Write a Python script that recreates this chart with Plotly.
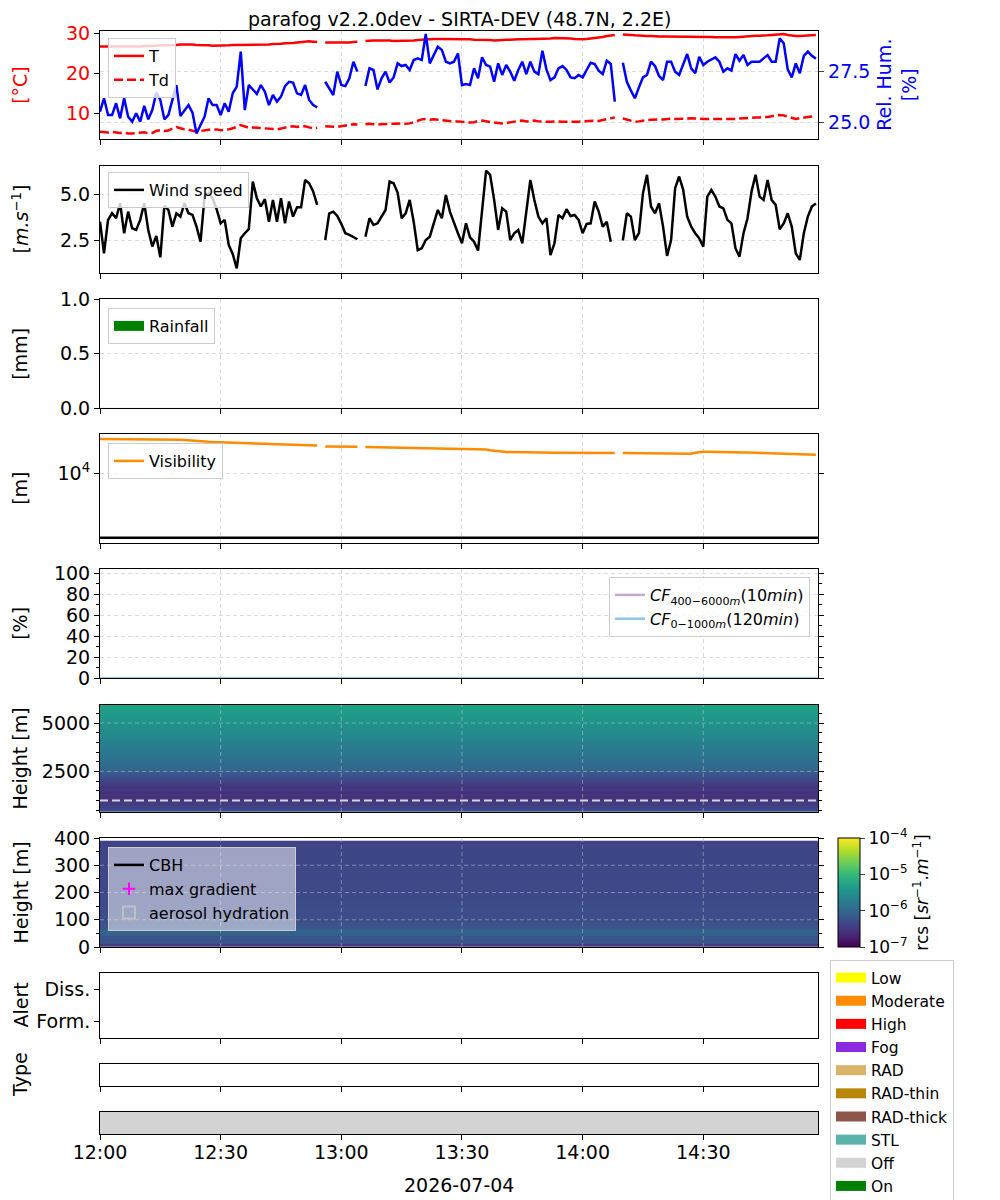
import numpy as np
import pandas as pd
import plotly.graph_objects as go

# ---- time base: 1-min samples from 12:00 ----
times = pd.date_range("2026-07-04 12:00", periods=179, freq="min")
ten_min = pd.date_range("2026-07-04 12:05", periods=18, freq="10min")
cf_times = pd.date_range("2026-07-04 12:00", periods=19, freq="10min")
x_start = pd.Timestamp("2026-07-04 12:00")
x_end = pd.Timestamp("2026-07-04 14:58:36")

# ---- weather station ----
temperature = [
    26.7, 26.7, 26.6, 26.7, 26.7, 26.6, 26.7, 26.7, 26.7, 26.7,
    26.7, 26.8, 26.8, 26.9, 26.9, 27.0, 27.0, 27.1, 27.1, 27.1,
    27.2, 27.2, 27.3, 27.2, 27.1, 27.1, 27.0, 27.0, 26.9, 26.9,
    26.9, 27.0, 27.0, 27.1, 27.1, 27.1, 27.2, 27.2, 27.2, 27.2,
    27.2, 27.2, 27.2, 27.3, 27.3, 27.4, 27.5, 27.5, 27.6, 27.7,
    27.8, 27.9, 28.0, 27.9, 27.8, None,
    27.7, 27.7, 27.7, 27.6, 27.6, 27.7, 27.7, 27.8, 27.9, None,
    28.1, 28.2, 28.2, 28.2, 28.2, 28.3, 28.2, 28.1, 28.1, 28.1,
    28.1, 28.1, 28.2, 28.3, 28.4, 28.5, 28.6, 28.6, 28.6, 28.6,
    28.6, 28.5, 28.5, 28.5, 28.6, 28.6, 28.5, 28.4, 28.4, 28.3,
    28.3, 28.3, 28.2, 28.3, 28.3,
    28.4, 28.4, 28.5, 28.5, 28.5, 28.6, 28.6, 28.6, 28.6, 28.7,
    28.7, 28.7, 28.8, 28.8, 28.8, 28.8, 28.7, 28.6, 28.5, 28.5,
    28.6, 28.7, 28.8, 29.0, 29.1, 29.3, 29.4, 29.6, None,
    29.7, 29.7, 29.6, 29.5, 29.4, 29.3, 29.3, 29.3, 29.2, 29.2,
    29.2, 29.2, 29.2, 29.2, 29.2, 29.2, 29.2, 29.2, 29.2, 29.2,
    29.2, 29.1, 29.1, 29.0, 29.0, 28.9, 28.9, 28.9, 29.0, 29.1,
    29.2, 29.2, 29.3, 29.4, 29.4, 29.4, 29.5, 29.6, 29.7, 29.8,
    29.8, 29.6, 29.4, 29.3, 29.3, 29.4, 29.5, 29.6, 29.6,
]
dewpoint = [
    5.4, 5.3, 5.2, 5.4, 5.3, 5.1, 5.2, 5.0, 5.0, 5.1,
    5.2, 5.3, 5.0, 5.1, 5.6, 5.8, 5.6, 5.7, 6.2, 6.6,
    6.3, 6.0, 5.9, 5.6, 5.4, 5.6, 5.8, 5.9, 5.9, 6.0,
    5.8, 5.9, 6.0, 6.3, 6.6, 7.1, 6.7, 6.4, 6.5, 6.4,
    6.3, 6.2, 6.1, 6.0, 6.0, 6.2, 6.5, 6.7, 6.8, 6.6,
    6.8, 6.8, 6.5, 6.3, 6.4, None,
    6.8, 6.7, 6.6, 6.6, 6.8, 7.0, 7.2, 7.3, 7.2, None,
    7.3, 7.4, 7.3, 7.2, 7.3, 7.4, 7.4, 7.4, 7.5, 7.5,
    7.4, 7.5, 7.8, 8.1, 8.5, 8.6, 8.4, 8.5, 8.4, 8.2,
    8.2, 8.1, 8.0, 8.0, 7.9, 7.9, 7.7, 7.8, 8.1, 8.2,
    8.0, 7.8, 7.7, 7.6, 7.5,
    7.6, 7.8, 8.0, 8.1, 8.2, 8.0, 8.1, 8.2, 8.0, 7.9,
    7.9, 7.9, 8.0, 8.0, 7.9, 7.9, 7.8, 7.8, 7.9, 8.0,
    8.1, 8.2, 8.2, 8.1, 8.3, 8.5, 8.8, 9.0, None,
    8.7, 8.4, 8.1, 7.9, 8.0, 8.2, 8.3, 8.4, 8.5, 8.5,
    8.5, 8.6, 8.7, 8.6, 8.6, 8.7, 8.7, 8.8, 8.8, 8.7,
    8.6, 8.6, 8.5, 8.5, 8.5, 8.6, 8.6, 8.5, 8.6, 8.7,
    8.8, 8.9, 8.9, 9.0, 9.0, 9.0, 9.1, 9.3, 9.5, 9.6,
    9.5, 9.2, 8.8, 8.6, 8.8, 9.0, 9.1, 9.2, 9.2,
]
rel_hum = [
    25.53, 26.18, 25.37, 25.37, 25.94, 25.21, 26.18, 25.29, 25.05, 25.45,
    25.05, 25.81, 25.16, 25.61, 26.45, 26.10, 25.16, 25.37, 26.10, 26.82,
    25.32, 25.61, 25.85, 25.48, 24.48, 24.89, 25.29, 26.18, 25.85, 25.85,
    25.37, 25.94, 25.53, 26.42, 26.74, 28.44, 25.61, 26.82, 26.58, 26.39,
    26.82, 26.50, 25.85, 26.34, 26.02, 26.26, 26.77, 26.98, 26.94, 26.42,
    26.34, 26.82, 26.10, 25.85, 25.74, None,
    26.98, 26.66, 26.34, 27.47, 26.82, 26.77, 27.15, 27.95, 27.47, None,
    26.77, 27.63, 27.55, 26.61, 27.15, 27.47, 26.94, 27.19, 27.87, 27.74,
    27.79, 27.55, 28.03, 28.11, 28.03, 29.29, 27.87, 28.27, 28.68, 28.52,
    27.95, 27.87, 27.95, 28.35, 26.82, 26.87, 26.82, 27.63, 27.15, 28.16,
    27.79, 27.71, 26.98, 27.87, 27.31,
    27.79, 27.47, 27.03, 27.55, 27.95, 27.35, 27.95, 27.47, 27.35, 28.48,
    27.58, 27.06, 27.19, 27.63, 27.74, 27.55, 27.19, 27.15, 27.31, 27.19,
    27.55, 27.90, 27.84, 27.52, 27.35, 28.00, 27.84, 26.02, None,
    27.90, 26.98, 26.55, 26.18, 26.71, 27.19, 27.31, 27.95, 27.74, 27.26,
    27.06, 27.95, 27.95, 27.47, 27.31, 27.84, 28.32, 27.63, 27.39, 28.19,
    27.79, 27.95, 28.06, 28.16, 27.95, 27.47, 27.63, 27.52, 28.32, 28.00,
    28.27, 27.79, 27.95, 27.95, 27.95, 28.11, 28.27, 27.95, 27.95, 29.08,
    28.84, 27.58, 27.19, 27.87, 27.39, 28.23, 28.44, 28.23, 28.10,
]
wind_speed = [
    3.50, 1.77, 3.60, 3.96, 3.69, 4.51, 2.87, 4.05, 3.14, 3.05,
    3.60, 4.51, 3.05, 2.14, 2.72, 1.55, 4.36, 4.14, 3.23, 3.96,
    3.78, 4.51, 3.96, 3.87, 3.23, 2.41, 4.87, 5.09, 4.78, 4.18,
    3.41, 3.60, 2.23, 1.74, 0.95, 2.59, 2.87, 3.09, 5.69, 4.78,
    4.33, 4.73, 3.50, 4.69, 3.50, 4.78, 3.41, 4.60, 3.78, 4.29,
    4.29, 5.78, 5.60, 5.15, 4.42, None,
    2.50, 3.96, 4.05, 3.81, 3.38, 2.87, 2.78, 2.68, 2.54, None,
    2.68, 3.69, 3.32, 3.41, 3.78, 4.14, 5.69, 5.60, 5.09, 3.69,
    3.96, 4.69, 3.50, 1.95, 2.05, 2.50, 2.68, 3.45, 4.14, 3.69,
    4.96, 4.05, 3.41, 2.87, 2.32, 3.41, 2.65, 2.41, 1.92, 3.96,
    6.29, 6.06, 4.69, 3.05,
    4.23, 4.05, 2.50, 2.87, 3.05, 2.32, 3.96, 5.78, 4.69, 3.78,
    3.41, 3.69, 1.68, 2.32, 3.87, 3.69, 4.18, 3.81, 3.87, 3.60,
    2.87, 3.38, 3.41, 4.60, 4.05, 3.23, 3.50, 2.41, None, None,
    2.47, 3.96, 3.78, 2.50, 2.87, 5.05, 6.06, 4.33, 3.96, 4.51,
    3.23, 1.63, 2.50, 5.33, 5.97, 5.24, 3.78, 3.23, 2.87, 2.59,
    2.14, 4.87, 5.24, 4.87, 4.33, 4.23, 3.60, 3.41, 2.05, 1.59,
    2.87, 3.69, 5.15, 6.06, 4.87, 4.69, 5.78, 4.69, 4.42, 3.09,
    3.41, 3.96, 3.23, 1.77, 1.41, 2.87, 3.78, 4.33, 4.50,
]
visibility = [
    34100, 34100, 34000, 34000, 34000, 33900, 33900, 33900, 33800, 33800,
    33800, 33700, 33700, 33700, 33600, 33600, 33500, 33500, 33400, 33400,
    33300, 32900, 32400, 32000, 31600, 31300, 31000, 30800, 30600, 30400,
    30300, 30100, 29900, 29800, 29600, 29500, 29300, 29200, 29100, 29000,
    28800, 28700, 28600, 28500, 28400, 28200, 28100, 28000, 27800, 27700,
    27600, 27400, 27300, 27200, 27100, None, 26200, 26100, 26000, 26000,
    25900, 25900, 25900, 25900, 25800, None, 25700, 25600, 25400, 25300,
    25200, 25100, 25000, 24900, 24800, 24700, 24600, 24600, 24500, 24500,
    24400, 24400, 24300, 24300, 24200, 24200, 24100, 24100, 24000, 24000,
    23900, 23900, 23900, 23900, 23900, 23900, 23400, 22900, 22400, 21900,
    21600, 21500, 21500, 21400, 21400, 21300, 21300, 21200, 21200, 21100,
    21100, 21000, 21000, 20900, 20900, 20900, 20900, 20900, 20800, 20800,
    20800, 20800, 20800, 20700, 20700, 20700, 20700, 20700, 20700, None,
    20600, 20600, 20600, 20500, 20500, 20500, 20400, 20400, 20400, 20300,
    20300, 20300, 20200, 20200, 20200, 20100, 20100, 20100, 20800, 21300,
    21600, 21600, 21600, 21500, 21500, 21400, 21400, 21300, 21300, 21200,
    21100, 21000, 20900, 20800, 20700, 20600, 20500, 20400, 20300, 20200,
    20100, 20000, 19900, 19800, 19700, 19700, 19600, 19600, 19500,
]
fog_vis_threshold = 1000

# ---- 10-min products ----
rainfall = [0.0, 0.0, 0.0, 0.0, 0.0, 0.0, 0.0, 0.0, 0.0,
            0.0, 0.0, 0.0, 0.0, 0.0, 0.0, 0.0, 0.0, 0.0]
cf_400_6000 = [0.0, 0.0, 0.0, 0.0, 0.0, 0.0, 0.0, 0.0, 0.0, 0.0,
               0.0, 0.0, 0.0, 0.0, 0.0, 0.0, 0.0, 0.0, 0.0]
cf_0_1000 = [0.0, 0.0, 0.0, 0.0, 0.0, 0.0, 0.0, 0.0, 0.0, 0.0,
             0.0, 0.0, 0.0, 0.0, 0.0, 0.0, 0.0, 0.0, 0.0]
status_off = [1, 1, 1, 1, 1, 1, 1, 1, 1, 1, 1, 1, 1, 1, 1, 1, 1, 1]
cf_split_height = 1000

# ---- ceilometer range-corrected signal, log10(rcs) mean profiles ----
hi_heights = list(range(450, 6000, 100))
hi_log_rcs = [
    -6.30, -6.35, -6.40, -6.45, -6.50, -6.50, -6.55, -6.60, -6.55, -6.60,
    -6.55, -6.50, -6.55, -6.50, -6.45, -6.40, -6.35, -6.30, -6.25, -6.20,
    -6.10, -6.05, -6.00, -5.98, -5.96, -5.95, -5.90, -5.88, -5.85, -5.82,
    -5.80, -5.78, -5.75, -5.73, -5.72, -5.70, -5.65, -5.63, -5.60, -5.58,
    -5.56, -5.55, -5.53, -5.52, -5.50, -5.50, -5.45, -5.43, -5.42, -5.40,
    -5.38, -5.36, -5.35, -5.33, -5.32, -5.30,
]
lo_heights = list(range(5, 395, 10))
lo_log_rcs = [
    -6.45, -6.20, -6.25, -6.20, -6.05, -6.05, -6.15, -6.20, -6.25,
    -6.28, -6.28, -6.30, -6.30, -6.30, -6.30, -6.31, -6.31, -6.32, -6.32,
    -6.32, -6.33, -6.33, -6.33, -6.34, -6.34, -6.34, -6.35, -6.35, -6.35,
    -6.35, -6.36, -6.36, -6.36, -6.37, -6.37, -6.37, -6.38, -6.38, -6.38,
]

# ---- legend categories (alert / fog type / status) ----
alert_names = ["Low", "Moderate", "High"]
alert_colors = ["#ffff00", "#ff8c00", "#ff0000"]
type_names = ["Fog", "RAD", "RAD-thin", "RAD-thick", "STL"]
type_colors = ["#8a2be2", "#d9b468", "#b8860b", "#8c564b", "#5ab4ac"]
status_names = ["Off", "On"]
status_colors = ["#d3d3d3", "#008000"]

FONT = "DejaVu Sans"
FS = 19
W, H, PAD = 992, 1192, 8   # page body adds an 8px margin


def fx(px):
    return (px - PAD) / W


def fy(py):
    return 1 - (py - PAD) / H


XDOM = [fx(100), fx(818.3)]
panel_px = [(30.7, 139), (165.7, 273.3), (299.3, 408.3), (434.3, 543.3), (569.3, 678.3),
            (705, 812), (838, 947), (973, 1038), (1064, 1086), (1112, 1134)]
domains = [[fy(b), fy(t)] for t, b in panel_px]
GRID = "#dcdcdc"

fig = go.Figure()


def ax(k):
    return ("x" if k == 1 else f"x{k}"), ("y" if k == 1 else f"y{k}")


# panel 1: temperature / dew point / RH
fig.add_trace(go.Scatter(x=times, y=temperature, name="T", mode="lines",
                         line=dict(color="red", width=2.5), legend="legend"))
fig.add_trace(go.Scatter(x=times, y=dewpoint, name="Td", mode="lines",
                         line=dict(color="red", width=2.5, dash="9px,4px"), legend="legend"))
fig.add_trace(go.Scatter(x=times, y=rel_hum, name="RH", mode="lines", showlegend=False,
                         line=dict(color="blue", width=2.5), xaxis="x", yaxis="y11"))

# panel 2: wind
fig.add_trace(go.Scatter(x=times, y=wind_speed, name="Wind speed", mode="lines",
                         line=dict(color="black", width=2.5), xaxis="x2", yaxis="y2",
                         legend="legend2"))

# panel 3: rainfall
fig.add_trace(go.Bar(x=ten_min, y=rainfall, marker_color="green", showlegend=False,
                     xaxis="x3", yaxis="y3"))
fig.add_trace(go.Scatter(x=[None], y=[None], name="Rainfall", mode="lines",
                         line=dict(color="green", width=11), xaxis="x3", yaxis="y3",
                         legend="legend3"))

# panel 4: visibility
fig.add_trace(go.Scatter(x=times, y=visibility, name="Visibility", mode="lines",
                         line=dict(color="#ff8c00", width=2.5), xaxis="x4", yaxis="y4",
                         legend="legend4"))
fig.add_shape(type="line", xref="x4 domain", x0=0, x1=1, yref="y4",
              y0=fog_vis_threshold, y1=fog_vis_threshold, line=dict(color="black", width=2.5))

# panel 5: cloud fraction
fig.add_trace(go.Scatter(x=cf_times, y=cf_400_6000, mode="lines",
                         name="<i>CF</i><sub>400−6000<i>m</i></sub>(10<i>min</i>)",
                         line=dict(color="#c3a8d8", width=2.5), xaxis="x5", yaxis="y5",
                         legend="legend5"))
fig.add_trace(go.Scatter(x=cf_times, y=cf_0_1000, mode="lines",
                         name="<i>CF</i><sub>0−1000<i>m</i></sub>(120<i>min</i>)",
                         line=dict(color="#8ec5e0", width=2.5), xaxis="x5", yaxis="y5",
                         legend="legend5"))

# panel 6 & 7: ceilometer rcs
z_hi = np.tile(np.array(hi_log_rcs)[:, None], (1, len(ten_min)))
z_lo = np.tile(np.array(lo_log_rcs)[:, None], (1, len(ten_min)))
fig.add_trace(go.Heatmap(x=ten_min, y=hi_heights, z=z_hi, coloraxis="coloraxis",
                         xaxis="x6", yaxis="y6", showlegend=False))
fig.add_shape(type="line", xref="x6 domain", x0=0, x1=1, yref="y6",
              y0=cf_split_height, y1=cf_split_height,
              line=dict(color="#d3d3d3", width=2, dash="8px,4px"))
fig.add_trace(go.Heatmap(x=ten_min, y=lo_heights, z=z_lo, coloraxis="coloraxis",
                         xaxis="x7", yaxis="y7", showlegend=False))
fig.add_trace(go.Scatter(x=[None], y=[None], name="CBH", mode="lines",
                         line=dict(color="black", width=2.5), xaxis="x7", yaxis="y7",
                         legend="legend7"))
fig.add_trace(go.Scatter(x=[None], y=[None], name="max gradient", mode="markers",
                         marker=dict(symbol="cross-thin", size=9,
                                     line=dict(color="magenta", width=2)),
                         xaxis="x7", yaxis="y7", legend="legend7"))
fig.add_trace(go.Bar(x=[None], y=[None], name="aerosol hydration",
                     marker=dict(color="rgba(0,0,0,0)", line=dict(color="#c0c0c0", width=2)),
                     xaxis="x7", yaxis="y7", legend="legend7"))

# panel 10: instrument status bar
fig.add_trace(go.Bar(x=ten_min, y=status_off, width=600000, marker_color=status_colors[0],
                     marker_line_width=0, showlegend=False, xaxis="x10", yaxis="y10"))

# big category legend
for names, colors, k in [(alert_names, alert_colors, 8), (type_names, type_colors, 9),
                         (status_names, status_colors, 10)]:
    xa, ya = ax(k)
    for n, c in zip(names, colors):
        fig.add_trace(go.Scatter(x=[None], y=[None], name=n, mode="lines",
                                 line=dict(color=c, width=15), xaxis=xa, yaxis=ya,
                                 legend="legend8"))

layout = dict(
    width=W, height=H, margin=dict(l=0, r=0, t=0, b=0, autoexpand=False),
    paper_bgcolor="white", plot_bgcolor="white",
    font=dict(family=FONT, size=FS, color="black"),
    barmode="overlay", bargap=0,
)

for k in range(1, 11):
    xa, ya = ax(k)
    xkey = "xaxis" if k == 1 else f"xaxis{k}"
    ykey = "yaxis" if k == 1 else f"yaxis{k}"
    layout[xkey] = dict(
        domain=XDOM, anchor=ya, type="date", range=[x_start, x_end],
        showline=True, mirror=True, linecolor="black", linewidth=1,
        ticks="outside", ticklen=5, tickcolor="black",
        tick0=x_start, dtick=1800000, tickformat="%H:%M",
        showticklabels=(k == 10), tickfont=dict(size=FS),
        showgrid=(k <= 7), gridcolor=GRID, griddash="4px,3px", zeroline=False,
    )
    if k > 1:
        layout[xkey]["matches"] = "x"
    layout[ykey] = dict(
        domain=domains[k - 1], anchor=xa, showline=True, mirror=True,
        linecolor="black", linewidth=1, ticks="outside", ticklen=5,
        tickcolor="black", showgrid=True, gridcolor=GRID, griddash="4px,3px",
        zeroline=False, tickfont=dict(size=FS),
    )
layout["xaxis10"]["ticklabelstandoff"] = -4

layout["yaxis"].update(range=[3.6, 30.65], tick0=0, dtick=10, showgrid=False,
                       tickfont=dict(color="red", size=FS))
layout["yaxis11"] = dict(overlaying="y", side="right", anchor="x", range=[24.21, 29.45],
                         tickvals=[25, 27.5], tickformat=".1f", ticks="outside", ticklen=5,
                         tickfont=dict(color="blue", size=FS), showgrid=True,
                         gridcolor=GRID, griddash="4px,3px", zeroline=False, showline=False)
layout["yaxis2"].update(range=[0.68, 6.56], tick0=0, dtick=2.5, tickformat=".1f")
layout["yaxis3"].update(range=[0, 1], tick0=0, dtick=0.5, tickformat=".1f")
layout["yaxis4"].update(type="log", range=[2.913, 4.606], tickvals=[10000],
                        ticktext=["10<sup>4</sup>"], mirror="ticks")
layout["yaxis5"].update(range=[0, 104], tick0=0, dtick=20, mirror="ticks",
                        minor=dict(dtick=10, ticks="outside", ticklen=3, tickcolor="black",
                                   showgrid=False))
layout["yaxis6"].update(range=[400, 5934], tick0=0, dtick=2500, mirror="ticks",
                        minor=dict(dtick=500, ticks="outside", ticklen=3, tickcolor="black",
                                   showgrid=False))
layout["yaxis7"].update(range=[0, 400], tick0=0, dtick=100, mirror="ticks",
                        minor=dict(dtick=50, ticks="outside", ticklen=3, tickcolor="black",
                                   showgrid=False))
layout["yaxis8"].update(range=[-0.5, 1.5], tickvals=[0, 1], ticktext=["Form.", "Diss."],
                        showgrid=False)
layout["yaxis9"].update(range=[0, 1], ticks="", showticklabels=False, showgrid=False)
layout["yaxis10"].update(range=[0, 1], ticks="", showticklabels=False, showgrid=False)

layout["coloraxis"] = dict(
    colorscale="Viridis", cmin=-7, cmax=-4,
    colorbar=dict(
        xref="container", yref="container",
        x=fx(838), xanchor="left", xpad=0, ypad=0, y=fy(892.5), yanchor="middle",
        lenmode="pixels", len=109, thickness=22, outlinecolor="black", outlinewidth=1,
        tickvals=[-7, -6, -5, -4],
        ticktext=["10<sup>−7</sup>", "10<sup>−6</sup>", "10<sup>−5</sup>", "10<sup>−4</sup>"],
        ticks="outside", ticklen=5, tickfont=dict(size=17),
        title=dict(text="rcs [<i>sr</i><sup>−1</sup>.<i>m</i><sup>−1</sup>]", side="right",
                   font=dict(size=17)),
    ),
)

leg = dict(bgcolor="rgba(255,255,255,0.8)", bordercolor="#cccccc", borderwidth=1,
           font=dict(size=16), xanchor="left", yanchor="top", tracegroupgap=0,
           xref="container", yref="container")
layout["legend"] = dict(leg, x=fx(108), y=fy(38))
layout["legend2"] = dict(leg, x=fx(108), y=fy(172))
layout["legend3"] = dict(leg, x=fx(108), y=fy(308))
layout["legend4"] = dict(leg, x=fx(108), y=fy(443))
layout["legend5"] = dict(leg, x=fx(810), y=fy(577), xanchor="right")
layout["legend7"] = dict(leg, x=fx(108), y=fy(847), bgcolor="rgba(255,255,255,0.5)")
layout["legend8"] = dict(leg, x=fx(830), y=fy(960), font=dict(size=15.5))

fig.update_layout(**layout)

# gridlines drawn above the rcs images
grid_times = pd.date_range("2026-07-04 12:30", periods=5, freq="30min")
for k, hgrid in [(6, [2500, 5000]), (7, [100, 200, 300])]:
    xa, ya = ax(k)
    for t in grid_times:
        fig.add_shape(type="line", xref=xa, x0=t, x1=t, yref=f"{ya} domain", y0=0, y1=1,
                      line=dict(color="rgba(210,210,210,0.45)", width=1, dash="4px,3px"))
    for h in hgrid:
        fig.add_shape(type="line", xref=f"{xa} domain", x0=0, x1=1, yref=ya, y0=h, y1=h,
                      line=dict(color="rgba(210,210,210,0.45)", width=1, dash="4px,3px"))

# titles and axis labels
yc = [(d[0] + d[1]) / 2 for d in domains]
ylabels = [
    ("[°C]", "red"), ("[<i>m.s</i><sup>−1</sup>]", "black"), ("[mm]", "black"),
    ("[m]", "black"), ("[%]", "black"), ("Height [m]", "black"),
    ("Height [m]", "black"), ("Alert", "black"), ("Type", "black"),
]
for (txt, col), y in zip(ylabels, yc):
    fig.add_annotation(text=txt, x=fx(20), y=y, xref="paper", yref="paper", textangle=-90,
                       showarrow=False, xanchor="center", yanchor="middle",
                       font=dict(size=FS, color=col))
fig.add_annotation(text="Rel. Hum.<br>[%]", x=fx(897), y=yc[0], xref="paper", yref="paper",
                   textangle=-90, showarrow=False, xanchor="center", yanchor="middle",
                   font=dict(size=FS, color="blue"))
fig.add_annotation(text="parafog v2.2.0dev - SIRTA-DEV (48.7N, 2.2E)", x=fx(459),
                   y=fy(19), xref="paper", yref="paper", showarrow=False,
                   xanchor="center", yanchor="middle", font=dict(size=FS))
fig.add_annotation(text="2026-07-04", x=fx(459), y=fy(1185), xref="paper",
                   yref="paper", showarrow=False, xanchor="center", yanchor="middle",
                   font=dict(size=FS))

fig.write_html("out.html")
